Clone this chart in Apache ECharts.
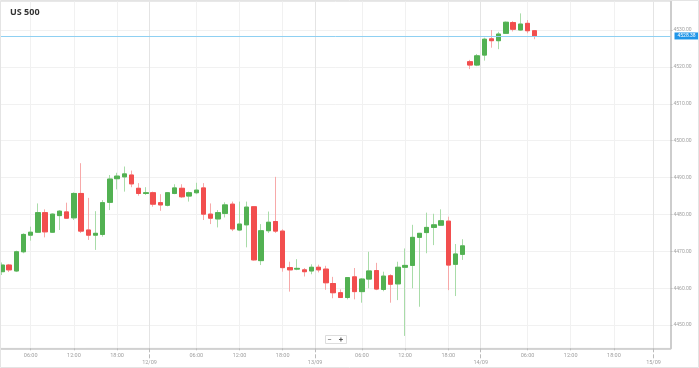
<!DOCTYPE html>
<html>
<head>
<meta charset="utf-8">
<script src="https://cdn.jsdelivr.net/npm/echarts@6/dist/echarts.min.js"></script>
<style>html,body{margin:0;padding:0;background:#fff}#c{width:699px;height:368px}</style>
</head>
<body>
<div id="c"></div>
<script>
// hourly slot index (11/09 00:00 = 0, 23 trading hours per day)
const slots = [2,3,4,5,6,7,8,9,10,11,12,13,14,15,16,17,18,19,20,21,22,23,24,25,26,27,28,29,30,31,32,33,34,35,36,37,38,39,40,41,42,43,44,45,46,47,48,49,50,51,52,53,54,55,56,57,58,59,60,61,62,63,64,65,66,67,68,69,70,71,72,73,74,75,76];
const open  = [4464.5,4466.3,4464.7,4469.9,4474.4,4475.2,4480.5,4475.2,4479.7,4480.7,4479.1,4485.7,4475.8,4474.4,4474.6,4483.3,4489.7,4490.2,4490.7,4487.1,4485.7,4485.9,4483.2,4482.5,4485.7,4487.1,4485.0,4485.9,4487.2,4480.1,4478.8,4480.3,4482.8,4475.8,4477.2,4482.1,4467.5,4475.6,4478.1,4475.5,4465.6,4465.2,4465.0,4464.7,4465.7,4465.2,4461.3,4458.8,4457.5,4463.1,4459.1,4462.5,4464.8,4459.7,4463.4,4461.2,4465.7,4466.2,4473.8,4475.1,4476.5,4477.1,4478.2,4466.5,4469.2,4521.4,4520.5,4523.2,4527.6,4527.1,4529.1,4532.0,4530.0,4531.8,4529.8];
const close = [4466.3,4465.0,4469.9,4474.6,4475.2,4480.5,4475.3,4480.1,4480.9,4479.0,4485.7,4475.5,4474.4,4474.9,4483.2,4489.6,4490.4,4491.0,4488.3,4485.7,4485.9,4482.8,4482.6,4485.9,4487.2,4484.8,4485.9,4486.6,4480.1,4479.0,4480.5,4482.6,4476.1,4477.4,4482.0,4467.7,4475.6,4477.9,4475.5,4465.6,4465.0,4465.4,4464.5,4465.7,4465.0,4461.5,4458.8,4457.5,4462.9,4459.1,4462.5,4464.7,4459.8,4463.3,4461.1,4465.7,4466.2,4473.8,4474.9,4476.5,4477.2,4478.3,4466.3,4469.3,4471.5,4520.5,4523.0,4527.5,4527.1,4528.9,4532.1,4530.2,4531.6,4529.8,4528.4];
const low   = [4463.6,4464.4,4464.4,4469.5,4472.9,4475.0,4473.8,4475.0,4475.8,4478.9,4478.5,4475.0,4473.1,4470.4,4474.0,4481.2,4486.8,4486.2,4487.4,4485.1,4485.3,4482.1,4481.0,4482.2,4485.5,4484.5,4483.5,4485.5,4478.5,4477.4,4476.5,4479.2,4475.5,4475.5,4471.1,4467.5,4466.3,4475.0,4475.0,4464.5,4459.1,4464.9,4463.2,4463.8,4464.3,4459.6,4457.3,4457.5,4457.0,4457.0,4456.1,4460.0,4459.5,4459.2,4456.1,4456.8,4447.1,4460.0,4455.0,4469.5,4471.7,4477.0,4459.5,4457.9,4467.7,4519.4,4520.2,4521.7,4525.2,4524.8,4529.0,4529.6,4529.8,4529.1,4527.5];
const high  = [4467.0,4466.6,4470.2,4474.9,4476.7,4483.0,4481.4,4480.3,4481.2,4483.2,4486.0,4493.9,4484.5,4480.9,4483.9,4490.7,4491.3,4493.0,4491.9,4488.5,4487.4,4486.2,4485.5,4486.1,4488.2,4488.2,4486.2,4488.6,4488.5,4483.0,4481.2,4483.3,4483.5,4483.5,4483.5,4482.3,4477.4,4480.8,4490.2,4476.0,4467.2,4467.9,4465.5,4466.5,4466.4,4466.1,4463.1,4459.7,4463.0,4465.5,4462.8,4469.9,4466.9,4464.5,4463.8,4467.2,4470.8,4477.2,4475.0,4480.5,4480.2,4481.4,4479.4,4472.0,4473.3,4521.9,4523.5,4527.9,4530.0,4529.5,4532.3,4532.4,4534.5,4532.7,4530.0];
const lastPrice = 4528.38;

const hourTickSlots  = [6,12,18,29,35,41,52,58,64,75,81,87];
const hourTickLabels = ['06:00','12:00','18:00','06:00','12:00','18:00','06:00','12:00','18:00','06:00','12:00','18:00'];
const dayTickSlots   = [22.5,45.5,68.5,92.5];
const dayTickLabels  = ['12/09','13/09','14/09','15/09'];
const priceTicks     = [4450,4460,4470,4480,4490,4500,4510,4520,4530];

const G = '#52b152', R = '#f24e4e', GW = '#a9dca9', RW = '#f7a9a9';
const wickData = slots.map((s,i)=>[s, open[i], close[i], low[i], high[i]]);
const bodyData = slots.map((s,i)=>[s, open[i], close[i], Math.min(open[i],close[i]), Math.max(open[i],close[i])]);
const FONT = 'Roboto, sans-serif';

const chart = echarts.init(document.getElementById('c'), null, {renderer:'canvas'});
chart.setOption({
  animation:false,
  backgroundColor:'#fff',
  grid:{left:0, right:28.5, top:1.5, bottom:19.7, show:true, borderColor:'#e8e8e8', borderWidth:1},
  xAxis:[{
    type:'value', min:1.736, max:94.86,
    axisLine:{show:true, lineStyle:{color:'#c8c8c8', width:1.5}},
    axisTick:{show:true, customValues:hourTickSlots, length:2, lineStyle:{color:'#bbb'}},
    axisLabel:{customValues:hourTickSlots, fontSize:5.5, color:'#a0a0a0', margin:4, fontFamily:FONT,
      formatter:(v)=>hourTickLabels[hourTickSlots.indexOf(v)] || ''},
    splitLine:{show:true, lineStyle:{color:'#f1f1f1', width:1}}
  },{
    type:'value', min:1.736, max:94.86, position:'bottom',
    axisLine:{show:false},
    axisTick:{show:true, customValues:dayTickSlots, length:10, lineStyle:{color:'#bbb', type:'dashed'}},
    axisLabel:{customValues:dayTickSlots, fontSize:5.5, color:'#a0a0a0', margin:11.5, fontFamily:FONT,
      formatter:(v)=>dayTickLabels[dayTickSlots.indexOf(v)] || ''},
    splitLine:{show:true, lineStyle:{color:'#e4e4e4', width:1}}
  }],
  yAxis:{
    type:'value', position:'right', min:4443.74, max:4537.72, scale:true,
    axisLine:{show:true, lineStyle:{color:'#cdcdcd', width:2}},
    axisTick:{show:true, customValues:priceTicks, length:2, lineStyle:{color:'#bbb'}},
    axisLabel:{customValues:priceTicks, fontSize:5, color:'#a0a0a0', margin:3, fontFamily:FONT,
      formatter:(v)=>v.toFixed(2)},
    splitLine:{show:true, lineStyle:{color:'#f1f1f1', width:1}}
  },
  series:[{
    type:'candlestick', xAxisIndex:0, barWidth:5, data:wickData,
    itemStyle:{color:GW, color0:RW, borderColor:GW, borderColor0:RW, borderWidth:1},
    markLine:{silent:true, symbol:['none','none'],
      lineStyle:{color:'#8fd0f2', width:1, type:'solid'},
      label:{position:'end', distance:4, formatter:()=>lastPrice.toFixed(2), color:'#fff', fontSize:5,
        fontFamily:FONT, backgroundColor:'#1f95e8', padding:[1,3,1,3]},
      data:[{yAxis:lastPrice}]}
  },{
    type:'candlestick', xAxisIndex:0, barWidth:5, data:bodyData,
    itemStyle:{color:G, color0:R, borderColor:G, borderColor0:R, borderWidth:1}
  }],
  graphic:[
    {type:'text', z:100, left:10, top:7.5, style:{text:'US 500', fontSize:9, fontWeight:'bold', fill:'#333', fontFamily:'"Open Sans", "DejaVu Sans", sans-serif'}},
    {type:'rect', z:100, shape:{x:325.5, y:335.5, width:21, height:8}, style:{fill:'#fff', stroke:'#ddd', lineWidth:1}},
    {type:'text', z:101, x:329.5, y:339.5, style:{text:'−', fontSize:8, fill:'#555', align:'center', verticalAlign:'middle', fontFamily:FONT}},
    {type:'text', z:101, x:341, y:339.5, style:{text:'+', fontSize:8, fill:'#555', align:'center', verticalAlign:'middle', fontFamily:FONT, fontWeight:'bold'}},
    {type:'rect', z:100, shape:{x:0.5, y:0.5, width:698, height:367}, style:{fill:'none', stroke:'#e4e4e4', lineWidth:1}, silent:true}
  ]
});
</script>
</body>
</html>
